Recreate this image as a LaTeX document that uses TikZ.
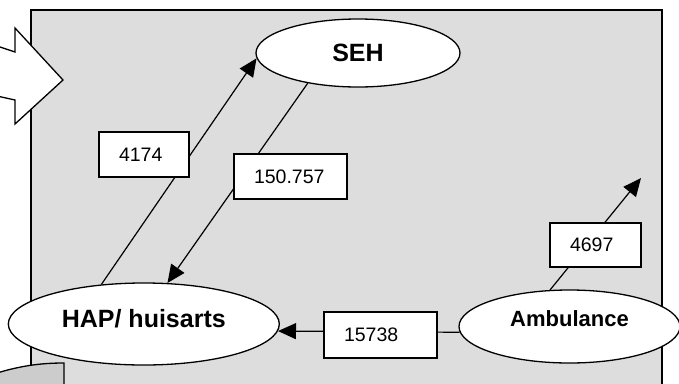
\documentclass[tikz,border=0pt]{standalone}
\usepackage{fontspec}
\setmainfont{Liberation Sans}
\usetikzlibrary{shapes.geometric,arrows.meta}
\definecolor{bggrey}{HTML}{DDDDDD}
\definecolor{shapegrey}{HTML}{CCCCCC}
\begin{document}
\begin{tikzpicture}[x=1pt,y=-1pt,
  ell/.style={draw,fill=white,ellipse,inner sep=0pt,line width=1.3pt,font=\fontsize{25}{30}\selectfont\bfseries},
  numbox/.style={draw,fill=white,rectangle,line width=1.2pt,inner xsep=20pt,inner ysep=0pt,minimum height=45pt,align=left,font=\fontsize{19.5}{23}\selectfont},
  conn/.style={line width=1.2pt},
  arr/.style={-{Triangle[length=18pt,width=16pt]}}]
\clip (0,0) rectangle (679,383);
% background panel
\draw[fill=bggrey,line width=1.5pt] (31,10) rectangle (662,400);
% big block arrow at left
\draw[fill=white,line width=1.3pt,line join=miter] (-3,46) -- (15,52) -- (15,28) -- (63,80) -- (15,124) -- (15,100) -- (-3,96) -- cycle;
% partial shape at bottom left
\draw[fill=shapegrey,line width=1.3pt] (-3,373) .. controls (20,366) and (40,363) .. (64,363) -- (64,395) -- (-3,395) -- cycle;
% ellipses
\node[ell,minimum width=271pt,minimum height=82pt,text height=14pt,text depth=8pt] (hap) at (143.8,324) {HAP/ huisarts};
\node[ell,minimum width=204pt,minimum height=68pt] (seh) at (358,53) {SEH};
\node[ell,minimum width=221pt,minimum height=73pt,text height=12pt,text depth=13pt,font=\fontsize{22}{26}\selectfont\bfseries] (amb) at (569.5,326.5) {Ambulance};
\coordinate (up) at (641,178);
% connectors
\draw[conn,arr] (hap.137) -- (seh.183);
\draw[conn,arr] (seh.211) -- (hap.60);
\draw[conn,arr] (amb.183) -- (hap.357);
\draw[conn,arr] (amb.118) -- (up);
% labels
\node[numbox,text width=50pt] (b4174) at (144,154.5) {4174};
\node[numbox,text width=73pt] (b150) at (290.5,176.5) {150.757};
\node[numbox,text width=73pt,minimum height=46pt] (b15738) at (380.5,335) {15738};
\node[numbox,text width=51pt,minimum height=44pt] (b4697) at (595.5,245) {4697};
\end{tikzpicture}
\end{document}
